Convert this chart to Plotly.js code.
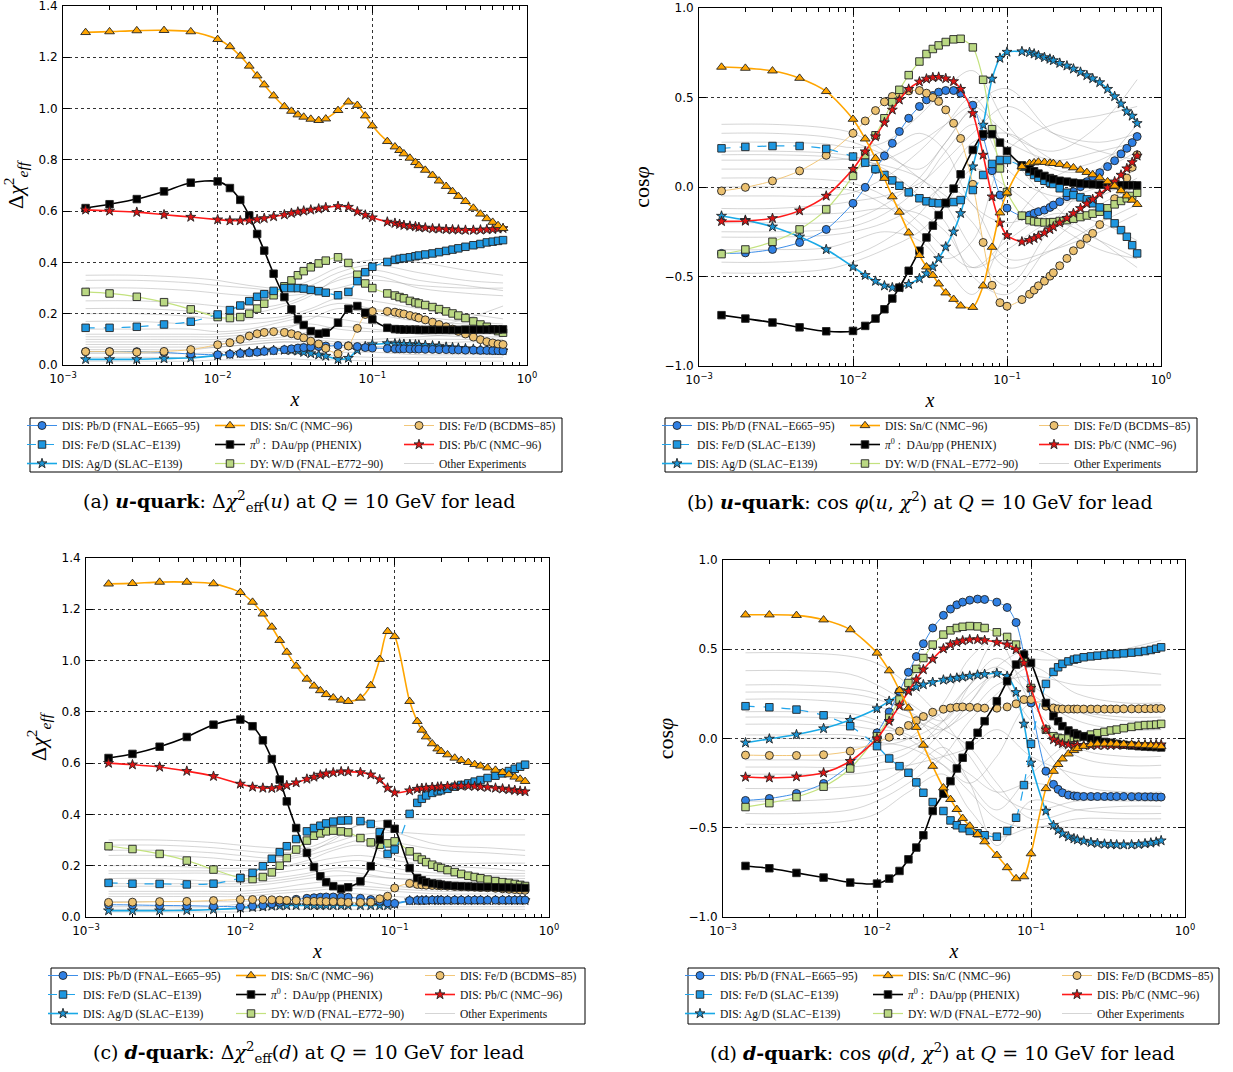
<!DOCTYPE html>
<html><head><meta charset="utf-8">
<script src="https://cdn.plot.ly/plotly-3.0.1.min.js"></script>
<style>html,body{margin:0;padding:0;background:#fff}#chart{width:1233px;height:1072px}</style>
</head><body><div id="chart"></div>
<script>
// ---------------- DATA ----------------
const xGrid = [0.0014,0.002,0.003,0.0045,0.0067,0.01,
  0.012,0.014,0.016,0.018,0.02,0.023,0.027,0.03,0.033,0.036,0.04,0.045,0.05,0.06,0.07,0.08,0.09,0.1,
  0.125,0.14,0.15,0.16,0.175,0.19,0.2,0.22,0.245,0.27,0.3,0.33,0.36,0.4,0.45,0.5,0.55,0.6,0.65,0.7];
const xOther = [0.0014,0.003,0.0067,0.01,0.016,0.027,0.04,0.06,0.1,0.2,0.4,0.7];

const xTickVals = [0.001,0.01,0.1,1];
const xTickText = ['10<sup>−3</sup>','10<sup>−2</sup>','10<sup>−1</sup>','10<sup>0</sup>'];
const yTickChi = [0,0.2,0.4,0.6,0.8,1.0,1.2,1.4];
const yTickCos = [-1,-0.5,0,0.5,1];

const seriesNames = {
  E665: 'DIS: Pb/D (FNAL−E665−95)',
  SLACFe: 'DIS: Fe/D (SLAC−E139)',
  Ag: 'DIS: Ag/D (SLAC−E139)',
  Sn: 'DIS: Sn/C (NMC−96)',
  pi0: '<i>π</i><sup>0</sup> :  DAu/pp (PHENIX)',
  DY: 'DY: W/D (FNAL−E772−90)',
  BCDMS: 'DIS: Fe/D (BCDMS−85)',
  PbC: 'DIS: Pb/C (NMC−96)',
  other: 'Other Experiments'
};

// ----- panel (a): u-quark, delta chi2 -----
const a_Sn = [1.297,1.300,1.304,1.305,1.300,1.270,
  1.242,1.205,1.166,1.128,1.093,1.050,1.008,0.990,0.976,0.967,0.959,0.954,0.960,0.993,1.026,1.013,0.972,0.933,
  0.872,0.851,0.837,0.824,0.807,0.790,0.778,0.760,0.740,0.718,0.697,0.677,0.658,0.638,0.612,0.589,0.571,0.557,0.544,0.533];
const a_pi0 = [0.612,0.627,0.647,0.677,0.711,0.716,
  0.690,0.644,0.583,0.511,0.446,0.356,0.265,0.217,0.178,0.156,0.132,0.122,0.126,0.165,0.219,0.230,0.204,0.178,
  0.145,0.140,0.139,0.138,0.138,0.138,0.137,0.137,0.137,0.137,0.137,0.137,0.137,0.138,0.138,0.138,0.138,0.139,0.139,0.139];
const a_PbC = [0.605,0.601,0.596,0.586,0.577,0.567,
  0.563,0.563,0.564,0.568,0.572,0.579,0.586,0.592,0.597,0.601,0.605,0.609,0.614,0.619,0.616,0.598,0.585,0.575,
  0.558,0.553,0.549,0.545,0.542,0.540,0.537,0.535,0.532,0.531,0.529,0.528,0.527,0.526,0.526,0.527,0.528,0.529,0.531,0.533];
const a_SLACFe = [0.145,0.145,0.149,0.158,0.169,0.197,
  0.214,0.232,0.249,0.266,0.276,0.289,0.300,0.300,0.300,0.298,0.293,0.288,0.282,0.272,0.285,0.327,0.362,0.383,
  0.402,0.410,0.414,0.417,0.420,0.424,0.427,0.431,0.435,0.440,0.445,0.450,0.455,0.461,0.467,0.472,0.478,0.481,0.484,0.487];
const a_DY = [0.285,0.279,0.266,0.245,0.217,0.187,
  0.183,0.187,0.200,0.220,0.239,0.272,0.307,0.330,0.350,0.366,0.381,0.396,0.407,0.420,0.398,0.352,0.318,0.300,
  0.279,0.271,0.265,0.260,0.250,0.244,0.240,0.234,0.226,0.218,0.209,0.201,0.193,0.183,0.170,0.158,0.149,0.139,0.132,0.126];
const a_BCDMS = [0.052,0.052,0.050,0.053,0.060,0.079,
  0.087,0.100,0.113,0.122,0.127,0.130,0.127,0.122,0.115,0.106,0.093,0.082,0.065,0.044,0.074,0.143,0.197,0.209,
  0.209,0.206,0.202,0.199,0.193,0.188,0.183,0.176,0.167,0.158,0.149,0.140,0.131,0.121,0.109,0.099,0.091,0.086,0.082,0.080];
const a_E665 = [0.052,0.052,0.052,0.049,0.043,0.040,
  0.042,0.045,0.048,0.050,0.053,0.056,0.060,0.063,0.066,0.068,0.070,0.072,0.074,0.076,0.075,0.072,0.068,0.066,
  0.064,0.063,0.063,0.063,0.062,0.062,0.062,0.061,0.061,0.060,0.060,0.059,0.059,0.058,0.058,0.057,0.057,0.056,0.056,0.055];
const a_Ag = [0.022,0.022,0.022,0.025,0.028,0.037,
  0.042,0.046,0.050,0.053,0.055,0.057,0.058,0.057,0.055,0.050,0.045,0.040,0.035,0.022,0.027,0.058,0.072,0.080,
  0.084,0.083,0.082,0.081,0.080,0.079,0.078,0.077,0.075,0.073,0.070,0.068,0.066,0.064,0.062,0.060,0.059,0.058,0.057,0.056];
const a_other = [
  [0.35,0.35,0.34,0.33,0.31,0.30,0.33,0.38,0.41,0.40,0.37,0.35],
  [0.33,0.33,0.32,0.31,0.30,0.29,0.31,0.36,0.39,0.36,0.33,0.32],
  [0.30,0.30,0.29,0.28,0.27,0.27,0.28,0.30,0.33,0.31,0.30,0.30],
  [0.25,0.25,0.24,0.23,0.22,0.24,0.28,0.33,0.35,0.30,0.28,0.27],
  [0.22,0.22,0.21,0.20,0.20,0.23,0.27,0.34,0.37,0.33,0.31,0.29],
  [0.20,0.20,0.19,0.18,0.18,0.19,0.22,0.26,0.25,0.22,0.20,0.18],
  [0.17,0.17,0.16,0.16,0.16,0.18,0.21,0.24,0.22,0.19,0.17,0.16],
  [0.14,0.14,0.14,0.13,0.14,0.17,0.19,0.18,0.16,0.15,0.15,0.15],
  [0.12,0.12,0.12,0.12,0.13,0.15,0.16,0.14,0.13,0.14,0.18,0.23],
  [0.11,0.11,0.11,0.11,0.12,0.14,0.18,0.22,0.20,0.17,0.16,0.15],
  [0.10,0.10,0.10,0.10,0.11,0.12,0.11,0.10,0.10,0.11,0.12,0.12],
  [0.09,0.09,0.09,0.09,0.10,0.11,0.13,0.15,0.14,0.12,0.11,0.11],
  [0.08,0.08,0.08,0.08,0.09,0.10,0.10,0.09,0.09,0.10,0.10,0.10],
  [0.07,0.07,0.07,0.07,0.08,0.09,0.08,0.07,0.07,0.08,0.09,0.09],
  [0.06,0.06,0.06,0.07,0.08,0.09,0.09,0.08,0.07,0.07,0.06,0.06],
  [0.045,0.045,0.045,0.05,0.06,0.07,0.06,0.05,0.05,0.04,0.04,0.04],
  [0.03,0.03,0.03,0.035,0.04,0.045,0.04,0.035,0.03,0.03,0.03,0.03],
  [0.015,0.015,0.015,0.02,0.02,0.025,0.02,0.02,0.015,0.015,0.015,0.015]];

// ----- panel (b): u-quark, cos phi -----
const b_Sn = [0.670,0.664,0.649,0.608,0.534,0.379,
  0.269,0.160,0.049,-0.054,-0.140,-0.256,-0.382,-0.446,-0.493,-0.541,-0.591,-0.627,-0.664,-0.672,-0.552,-0.336,-0.144,-0.032,
  0.114,0.132,0.136,0.140,0.138,0.134,0.132,0.127,0.119,0.108,0.095,0.082,0.069,0.052,0.030,0.006,-0.020,-0.049,-0.073,-0.097];
const b_pi0 = [-0.716,-0.735,-0.757,-0.784,-0.806,-0.804,
  -0.776,-0.735,-0.683,-0.623,-0.562,-0.468,-0.356,-0.282,-0.216,-0.157,-0.088,-0.009,0.071,0.207,0.295,0.295,0.248,0.201,
  0.121,0.100,0.088,0.075,0.062,0.050,0.043,0.035,0.030,0.024,0.020,0.017,0.015,0.013,0.011,0.011,0.010,0.010,0.010,0.009];
const b_PbC = [-0.192,-0.190,-0.175,-0.132,-0.050,0.100,
  0.198,0.282,0.360,0.431,0.487,0.547,0.588,0.604,0.612,0.614,0.606,0.590,0.547,0.412,0.179,-0.054,-0.200,-0.270,
  -0.306,-0.297,-0.287,-0.274,-0.256,-0.237,-0.222,-0.200,-0.174,-0.147,-0.119,-0.093,-0.069,-0.039,-0.004,0.030,0.067,0.103,0.138,0.174];
const b_SLACFe = [0.216,0.224,0.229,0.229,0.213,0.170,
  0.136,0.100,0.067,0.037,0.007,-0.030,-0.063,-0.080,-0.088,-0.091,-0.091,-0.084,-0.073,-0.017,0.067,0.129,0.151,0.151,
  0.114,0.086,0.067,0.052,0.035,0.024,0.017,-0.007,-0.032,-0.045,-0.058,-0.069,-0.091,-0.114,-0.157,-0.203,-0.241,-0.278,-0.325,-0.371];
const b_DY = [-0.375,-0.349,-0.306,-0.237,-0.125,0.062,
  0.177,0.289,0.384,0.474,0.543,0.625,0.701,0.743,0.771,0.791,0.810,0.825,0.828,0.780,0.599,0.323,0.104,-0.028,
  -0.160,-0.185,-0.192,-0.196,-0.198,-0.198,-0.196,-0.190,-0.185,-0.177,-0.168,-0.159,-0.149,-0.138,-0.119,-0.097,-0.078,-0.063,-0.050,-0.032];
const b_BCDMS = [-0.022,-0.002,0.034,0.090,0.177,0.300,
  0.369,0.427,0.476,0.506,0.520,0.537,0.539,0.524,0.500,0.478,0.431,0.356,0.271,0.015,-0.310,-0.549,-0.646,-0.666,
  -0.629,-0.599,-0.576,-0.552,-0.526,-0.498,-0.479,-0.440,-0.399,-0.356,-0.321,-0.287,-0.259,-0.210,-0.140,-0.065,-0.010,0.050,0.110,0.180];
const b_E665 = [-0.371,-0.368,-0.349,-0.310,-0.237,-0.091,
  -0.002,0.099,0.174,0.244,0.310,0.384,0.450,0.487,0.511,0.530,0.539,0.539,0.524,0.457,0.282,0.091,-0.045,-0.118,
  -0.162,-0.157,-0.147,-0.138,-0.129,-0.114,-0.101,-0.082,-0.054,-0.026,0.002,0.030,0.058,0.080,0.114,0.147,0.185,0.216,0.248,0.282];
const b_Ag = [-0.162,-0.185,-0.222,-0.278,-0.349,-0.446,
  -0.493,-0.526,-0.552,-0.562,-0.563,-0.543,-0.511,-0.483,-0.446,-0.399,-0.334,-0.250,-0.147,0.114,0.347,0.604,0.720,0.754,
  0.757,0.752,0.744,0.735,0.724,0.715,0.707,0.692,0.677,0.660,0.642,0.623,0.606,0.584,0.547,0.506,0.465,0.422,0.397,0.356];
const b_other = [
  [0.35,0.35,0.33,0.30,0.20,0.05,-0.05,-0.20,-0.45,-0.35,-0.20,-0.10],
  [0.25,0.25,0.24,0.22,0.25,0.40,0.55,0.65,0.35,0.10,0.10,0.20],
  [0.18,0.18,0.17,0.15,0.12,0.05,-0.10,-0.35,-0.55,-0.20,0.10,0.35],
  [0.10,0.10,0.10,0.10,0.15,0.25,0.35,0.45,0.30,0.20,0.35,0.60],
  [0.05,0.05,0.04,0.02,-0.05,-0.20,-0.35,-0.45,-0.30,-0.15,-0.20,-0.30],
  [-0.05,-0.05,-0.05,-0.03,0.05,0.20,0.35,0.50,0.20,-0.10,-0.30,-0.45],
  [-0.12,-0.12,-0.10,-0.08,-0.05,0.02,0.15,0.30,0.45,0.30,0.25,0.30],
  [-0.20,-0.20,-0.20,-0.18,-0.10,0.05,0.25,0.42,0.10,-0.05,0.00,0.10],
  [-0.28,-0.28,-0.27,-0.25,-0.20,-0.10,0.00,-0.10,-0.40,-0.35,-0.25,-0.15],
  [-0.35,-0.35,-0.34,-0.30,-0.25,-0.30,-0.45,-0.60,-0.25,0.05,0.15,0.25],
  [-0.42,-0.42,-0.40,-0.38,-0.30,-0.15,0.05,0.25,0.30,0.15,0.05,-0.05],
  [-0.48,-0.48,-0.46,-0.42,-0.35,-0.25,-0.10,0.10,0.00,-0.20,-0.35,-0.40],
  [0.30,0.30,0.28,0.25,0.18,0.10,0.25,0.45,0.55,0.30,0.20,0.15],
  [0.00,0.00,-0.01,-0.02,-0.10,-0.25,-0.40,-0.30,0.20,0.35,0.40,0.45],
  [0.15,0.15,0.15,0.16,0.20,0.30,0.20,-0.10,-0.20,-0.10,-0.05,0.05],
  [0.20,0.20,0.19,0.17,0.10,-0.05,-0.20,-0.50,-0.60,-0.30,-0.10,0.00],
  [-0.25,-0.25,-0.24,-0.22,-0.15,0.00,0.20,0.35,0.25,0.15,0.20,0.25],
  [-0.15,-0.15,-0.15,-0.14,-0.12,-0.15,-0.25,-0.45,-0.35,-0.20,-0.30,-0.40]];

// ----- panel (c): d-quark, delta chi2 -----
const c_Sn = [1.299,1.301,1.306,1.306,1.300,1.266,
  1.228,1.182,1.131,1.079,1.033,0.979,0.928,0.901,0.883,0.868,0.855,0.846,0.841,0.854,0.903,1.005,1.114,1.094,
  0.841,0.763,0.729,0.703,0.676,0.656,0.646,0.633,0.620,0.611,0.603,0.595,0.589,0.582,0.573,0.564,0.555,0.546,0.538,0.529];
const c_pi0 = [0.620,0.636,0.664,0.702,0.750,0.770,
  0.744,0.689,0.616,0.536,0.451,0.347,0.250,0.195,0.159,0.136,0.120,0.110,0.116,0.139,0.198,0.302,0.363,0.344,
  0.191,0.152,0.143,0.136,0.131,0.129,0.126,0.123,0.121,0.120,0.119,0.118,0.117,0.117,0.116,0.115,0.115,0.114,0.114,0.113];
const c_PbC = [0.600,0.594,0.585,0.569,0.549,0.519,
  0.507,0.503,0.502,0.506,0.513,0.524,0.538,0.546,0.554,0.559,0.563,0.567,0.567,0.564,0.555,0.536,0.503,0.485,
  0.493,0.499,0.502,0.503,0.506,0.507,0.508,0.510,0.511,0.511,0.511,0.510,0.508,0.506,0.503,0.500,0.497,0.494,0.491,0.489];
const c_SLACFe = [0.133,0.130,0.129,0.127,0.130,0.152,
  0.172,0.198,0.227,0.253,0.276,0.304,0.334,0.347,0.356,0.365,0.372,0.376,0.377,0.374,0.363,0.331,0.246,0.263,
  0.402,0.445,0.461,0.474,0.484,0.490,0.494,0.500,0.508,0.515,0.521,0.528,0.534,0.542,0.551,0.560,0.569,0.578,0.586,0.594];
const c_DY = [0.276,0.265,0.246,0.220,0.185,0.152,
  0.148,0.156,0.174,0.200,0.230,0.263,0.298,0.317,0.326,0.334,0.337,0.334,0.330,0.308,0.291,0.282,0.287,0.295,
  0.256,0.234,0.224,0.214,0.204,0.196,0.191,0.183,0.175,0.168,0.161,0.156,0.151,0.146,0.140,0.136,0.133,0.129,0.125,0.121];
const c_BCDMS = [0.057,0.058,0.060,0.061,0.064,0.068,
  0.068,0.068,0.067,0.066,0.065,0.064,0.062,0.061,0.061,0.060,0.060,0.059,0.057,0.057,0.058,0.071,0.081,0.113,
  0.131,0.127,0.125,0.124,0.123,0.122,0.121,0.120,0.119,0.118,0.117,0.116,0.115,0.114,0.112,0.110,0.108,0.107,0.105,0.104];
const c_E665 = [0.048,0.047,0.045,0.044,0.042,0.040,
  0.042,0.045,0.051,0.057,0.064,0.069,0.073,0.075,0.077,0.078,0.078,0.078,0.077,0.073,0.068,0.061,0.055,0.053,
  0.064,0.065,0.065,0.065,0.066,0.066,0.066,0.066,0.066,0.066,0.066,0.066,0.066,0.066,0.066,0.066,0.066,0.066,0.066,0.066];
const c_Ag = [0.025,0.025,0.025,0.026,0.029,0.035,
  0.038,0.040,0.043,0.044,0.045,0.045,0.045,0.045,0.045,0.045,0.045,0.045,0.045,0.045,0.045,0.045,0.045,0.051,
  0.064,0.064,0.064,0.065,0.065,0.065,0.065,0.065,0.065,0.065,0.065,0.065,0.065,0.065,0.065,0.065,0.065,0.065,0.065,0.065];
const c_other = [
  [0.30,0.30,0.29,0.28,0.27,0.27,0.31,0.36,0.38,0.38,0.38,0.38],
  [0.28,0.28,0.27,0.26,0.25,0.26,0.29,0.32,0.33,0.32,0.32,0.32],
  [0.26,0.26,0.25,0.24,0.23,0.25,0.30,0.36,0.33,0.28,0.27,0.26],
  [0.24,0.24,0.23,0.22,0.22,0.24,0.27,0.30,0.29,0.26,0.25,0.24],
  [0.20,0.20,0.19,0.19,0.19,0.21,0.23,0.24,0.22,0.20,0.19,0.18],
  [0.18,0.18,0.18,0.18,0.19,0.22,0.26,0.28,0.24,0.21,0.21,0.21],
  [0.17,0.17,0.17,0.16,0.17,0.19,0.21,0.22,0.19,0.17,0.17,0.17],
  [0.15,0.15,0.14,0.14,0.15,0.17,0.19,0.19,0.17,0.16,0.16,0.16],
  [0.13,0.13,0.13,0.13,0.14,0.16,0.18,0.17,0.15,0.15,0.15,0.15],
  [0.12,0.12,0.12,0.12,0.13,0.15,0.16,0.16,0.15,0.14,0.14,0.14],
  [0.10,0.10,0.10,0.10,0.11,0.13,0.14,0.14,0.12,0.11,0.11,0.11],
  [0.09,0.09,0.09,0.09,0.10,0.11,0.12,0.12,0.11,0.10,0.10,0.10],
  [0.08,0.08,0.08,0.08,0.09,0.10,0.11,0.11,0.10,0.09,0.09,0.09],
  [0.06,0.06,0.06,0.06,0.07,0.08,0.09,0.09,0.08,0.07,0.07,0.07],
  [0.04,0.04,0.04,0.05,0.05,0.06,0.07,0.07,0.06,0.05,0.05,0.05],
  [0.03,0.03,0.03,0.03,0.04,0.05,0.05,0.05,0.04,0.04,0.04,0.04],
  [0.02,0.02,0.02,0.02,0.03,0.03,0.03,0.03,0.03,0.03,0.03,0.03]];

// ----- panel (d): d-quark, cos phi -----
const d_Sn = [0.693,0.693,0.690,0.665,0.610,0.479,
  0.380,0.270,0.171,0.063,-0.037,-0.155,-0.276,-0.341,-0.397,-0.447,-0.490,-0.537,-0.578,-0.654,-0.723,-0.785,-0.774,-0.645,
  -0.280,-0.183,-0.145,-0.114,-0.086,-0.067,-0.056,-0.043,-0.034,-0.030,-0.030,-0.030,-0.031,-0.032,-0.034,-0.036,-0.038,-0.040,-0.042,-0.045];
const d_pi0 = [-0.714,-0.727,-0.753,-0.779,-0.807,-0.813,
  -0.785,-0.742,-0.677,-0.611,-0.542,-0.406,-0.309,-0.239,-0.168,-0.108,-0.039,0.032,0.097,0.209,0.321,0.414,0.470,0.423,
  0.199,0.125,0.097,0.069,0.045,0.030,0.022,0.011,0.000,-0.009,-0.019,-0.024,-0.030,-0.035,-0.039,-0.043,-0.045,-0.047,-0.048,-0.050];
const d_PbC = [-0.216,-0.220,-0.214,-0.192,-0.127,0.000,
  0.097,0.183,0.265,0.330,0.386,0.445,0.503,0.526,0.539,0.548,0.554,0.555,0.550,0.539,0.526,0.498,0.423,0.283,
  0.050,-0.006,-0.019,-0.028,-0.034,-0.037,-0.037,-0.038,-0.038,-0.038,-0.038,-0.038,-0.037,-0.037,-0.036,-0.036,-0.035,-0.035,-0.034,-0.034];
const d_SLACFe = [0.181,0.175,0.162,0.130,0.069,-0.043,
  -0.112,-0.155,-0.192,-0.246,-0.304,-0.356,-0.406,-0.459,-0.486,-0.503,-0.518,-0.531,-0.542,-0.550,-0.518,-0.444,-0.261,-0.030,
  0.306,0.373,0.399,0.418,0.432,0.442,0.447,0.455,0.460,0.464,0.468,0.472,0.473,0.477,0.481,0.485,0.490,0.496,0.503,0.511];
const d_DY = [-0.384,-0.362,-0.328,-0.270,-0.168,0.013,
  0.116,0.218,0.311,0.390,0.451,0.526,0.582,0.606,0.619,0.626,0.630,0.628,0.619,0.595,0.569,0.526,0.432,0.283,
  0.050,0.013,0.004,0.000,0.000,0.004,0.007,0.013,0.022,0.030,0.037,0.045,0.050,0.058,0.065,0.071,0.075,0.076,0.078,0.082];
const d_BCDMS = [-0.093,-0.095,-0.095,-0.091,-0.071,-0.020,
  0.007,0.041,0.073,0.100,0.123,0.147,0.164,0.171,0.175,0.177,0.175,0.173,0.170,0.170,0.177,0.194,0.218,0.218,
  0.181,0.171,0.166,0.165,0.165,0.165,0.165,0.165,0.165,0.165,0.165,0.165,0.165,0.166,0.166,0.166,0.167,0.167,0.168,0.168];
const d_E665 = [-0.347,-0.336,-0.308,-0.252,-0.145,0.032,
  0.149,0.265,0.371,0.459,0.531,0.619,0.690,0.725,0.749,0.764,0.775,0.781,0.779,0.764,0.734,0.650,0.470,0.199,
  -0.183,-0.257,-0.285,-0.304,-0.317,-0.322,-0.324,-0.325,-0.325,-0.325,-0.325,-0.325,-0.325,-0.325,-0.326,-0.326,-0.327,-0.327,-0.328,-0.328];
const d_Ag = [-0.024,-0.002,0.022,0.056,0.103,0.168,
  0.209,0.246,0.270,0.289,0.302,0.315,0.328,0.334,0.339,0.345,0.350,0.356,0.360,0.365,0.349,0.259,0.082,-0.136,
  -0.406,-0.486,-0.514,-0.533,-0.550,-0.561,-0.567,-0.574,-0.582,-0.587,-0.591,-0.593,-0.595,-0.595,-0.595,-0.593,-0.589,-0.585,-0.580,-0.572];
const d_other = [
  [0.48,0.48,0.46,0.42,0.30,0.10,-0.10,-0.30,-0.40,-0.35,-0.35,-0.35],
  [0.38,0.38,0.36,0.30,0.20,0.10,0.30,0.55,0.45,0.45,0.50,0.55],
  [0.30,0.30,0.28,0.25,0.15,-0.05,-0.25,-0.40,-0.20,0.00,0.05,0.05],
  [0.22,0.22,0.20,0.18,0.12,0.05,0.20,0.40,0.50,0.40,0.38,0.36],
  [0.15,0.15,0.14,0.10,0.00,-0.15,-0.30,-0.45,-0.50,-0.45,-0.45,-0.45],
  [0.08,0.08,0.07,0.05,0.05,0.15,0.30,0.45,0.30,0.15,0.10,0.10],
  [0.02,0.02,0.02,0.00,0.00,0.10,0.25,0.35,0.10,-0.10,-0.15,-0.15],
  [-0.05,-0.05,-0.05,-0.04,0.00,0.20,0.45,0.55,0.20,-0.05,-0.10,-0.10],
  [-0.12,-0.12,-0.12,-0.10,-0.05,0.05,0.15,0.30,0.35,0.30,0.30,0.30],
  [-0.20,-0.20,-0.20,-0.18,-0.15,-0.10,-0.05,0.05,-0.10,-0.20,-0.22,-0.22],
  [-0.28,-0.28,-0.27,-0.25,-0.15,0.05,0.20,0.35,0.05,-0.25,-0.30,-0.30],
  [-0.35,-0.35,-0.33,-0.30,-0.20,-0.05,-0.25,-0.60,-0.35,-0.40,-0.42,-0.42],
  [-0.42,-0.42,-0.40,-0.35,-0.25,-0.10,0.10,0.25,0.40,0.25,0.20,0.20],
  [-0.48,-0.48,-0.46,-0.42,-0.30,-0.20,-0.40,-0.55,-0.50,-0.50,-0.52,-0.52],
  [0.00,0.00,0.00,-0.02,-0.05,-0.15,-0.25,-0.10,0.20,0.15,0.12,0.12],
  [0.12,0.12,0.11,0.08,0.02,-0.10,-0.20,-0.30,-0.25,-0.30,-0.32,-0.32],
  [-0.16,-0.16,-0.16,-0.14,-0.08,0.10,0.30,0.40,0.25,0.10,0.05,0.05],
  [0.26,0.26,0.25,0.22,0.15,0.05,-0.05,-0.25,-0.45,-0.40,-0.38,-0.38]];

// ---------------- STYLE / LAYOUT ----------------
const W = 1233, H = 1072;
const PANEL_DATA = {
  a: {E665:a_E665, SLACFe:a_SLACFe, Ag:a_Ag, Sn:a_Sn, pi0:a_pi0, DY:a_DY, BCDMS:a_BCDMS, PbC:a_PbC, other:a_other},
  b: {E665:b_E665, SLACFe:b_SLACFe, Ag:b_Ag, Sn:b_Sn, pi0:b_pi0, DY:b_DY, BCDMS:b_BCDMS, PbC:b_PbC, other:b_other},
  c: {E665:c_E665, SLACFe:c_SLACFe, Ag:c_Ag, Sn:c_Sn, pi0:c_pi0, DY:c_DY, BCDMS:c_BCDMS, PbC:c_PbC, other:c_other},
  d: {E665:d_E665, SLACFe:d_SLACFe, Ag:d_Ag, Sn:d_Sn, pi0:d_pi0, DY:d_DY, BCDMS:d_BCDMS, PbC:d_PbC, other:d_other}
};
const EDGE = '#222';
const STYLE = {
  Ag:    {col:0, rank:3, sym:'star', size:7.5, fill:'#1b95d6', lc:'#19a9e6', lw:1.6, dash:'solid'},
  E665:  {col:0, rank:1, sym:'circle', size:8, fill:'#2f80e4', lc:'#3d8ee8', lw:1.0, dash:'solid'},
  BCDMS: {col:2, rank:1, sym:'circle', size:8, fill:'#ecc170', lc:'#f2c77a', lw:1.0, dash:'solid'},
  DY:    {col:1, rank:3, sym:'square', size:7.5, fill:'#bad883', lc:'#c3e27e', lw:1.2, dash:'solid'},
  SLACFe:{col:0, rank:2, sym:'square', size:7.5, fill:'#1e97e0', lc:'#22a4ea', lw:1.2, dash:'dash'},
  pi0:   {col:1, rank:2, sym:'square', size:7.5, fill:'#000000', lc:'#000000', lw:1.6, dash:'solid'},
  PbC:   {col:2, rank:2, sym:'star', size:7.5, fill:'#e01414', lc:'#ff1a1a', lw:1.6, dash:'solid'},
  Sn:    {col:1, rank:1, sym:'triangle-up', size:8.5, fill:'#ffa500', lc:'#ffa500', lw:1.6, dash:'solid'}
};
const DRAW_ORDER = ['Ag','E665','BCDMS','DY','SLACFe','pi0','PbC','Sn'];

const PANELS = [
  {k:'a', frame:[63,527,6,365], yr:[0,1.4], tv:yTickChi, box:[30,418,562,472], cap:[299,501], ytitle:'Δ<i>χ</i><sup>2</sup><sub><i>eff</i></sub>',
   caption:'(a) <b><i>u</i>-quark</b>: Δ<i>χ</i><sup>2</sup><sub>eff</sub>(<i>u</i>) at <i>Q</i> = 10 GeV for lead'},
  {k:'b', frame:[699,1161,8,366], yr:[-1,1], tv:yTickCos, box:[665,418,1197,472], cap:[920,501], ytitle:'cos<i>φ</i>',
   caption:'(b) <b><i>u</i>-quark</b>: cos <i>φ</i>(<i>u</i>, <i>χ</i><sup>2</sup>) at <i>Q</i> = 10 GeV for lead'},
  {k:'c', frame:[86,549,558,917], yr:[0,1.4], tv:yTickChi, box:[51,968,585,1024], cap:[308,1052], ytitle:'Δ<i>χ</i><sup>2</sup><sub><i>eff</i></sub>',
   caption:'(c) <b><i>d</i>-quark</b>: Δ<i>χ</i><sup>2</sup><sub>eff</sub>(<i>d</i>) at <i>Q</i> = 10 GeV for lead'},
  {k:'d', frame:[723,1185,560,917], yr:[-1,1], tv:yTickCos, box:[688,968,1219,1024], cap:[942,1052], ytitle:'cos<i>φ</i>',
   caption:'(d) <b><i>d</i>-quark</b>: cos <i>φ</i>(<i>d</i>, <i>χ</i><sup>2</sup>) at <i>Q</i> = 10 GeV for lead'}
];
const COL_OFF = [34, 222, 411];
const SERIF = 'Liberation Serif, serif';
const CAPSERIF = 'DejaVu Serif, serif';
const SANS = 'DejaVu Sans, sans-serif';

const traces = [];
const layout = {
  width: W, height: H, margin:{l:0,r:0,t:0,b:0}, paper_bgcolor:'#fff', plot_bgcolor:'#fff',
  showlegend: true, shapes: [], annotations: [], font:{family:SANS, color:'#000'}
};

PANELS.forEach((p, i) => {
  const n = i + 1;
  const xa = n === 1 ? 'x' : 'x' + n, ya = n === 1 ? 'y' : 'y' + n;
  const xKey = n === 1 ? 'xaxis' : 'xaxis' + n, yKey = n === 1 ? 'yaxis' : 'yaxis' + n;
  const [l, r, t, b] = p.frame;
  const legId = c => { const idx = i * 3 + c + 1; return idx === 1 ? 'legend' : 'legend' + idx; };
  const data = PANEL_DATA[p.k];

  data.other.forEach((ys, j) => {
    traces.push({type:'scatter', mode:'lines', x:xOther, y:ys, xaxis:xa, yaxis:ya,
      line:{color:'rgba(150,150,150,0.4)', width:1, shape:'spline', smoothing:1},
      name: seriesNames.other, legendgroup:'other'+p.k, showlegend: j === 0, legend: legId(2), legendrank: 3,
      hoverinfo:'skip'});
  });
  DRAW_ORDER.forEach(key => {
    const s = STYLE[key];
    traces.push({type:'scatter', mode:'lines+markers', x:xGrid, y:data[key], xaxis:xa, yaxis:ya,
      name: seriesNames[key], legend: legId(s.col), legendrank: s.rank,
      line:{color:s.lc, width:s.lw, dash:s.dash, shape:'spline', smoothing:0.8},
      marker:{symbol:s.sym, size:s.size, color:s.fill, line:{color:EDGE, width:0.9}}});
  });

  layout[xKey] = {
    type:'log', range:[-3,0], domain:[l/W, r/W], anchor:ya,
    tickvals:xTickVals, ticktext:xTickText, ticks:'inside', ticklen:7, tickwidth:1, tickcolor:'#000',
    ticklabelstandoff:3, ticklabeloverflow:'allow',
    minor:{ticks:'inside', ticklen:3.5, tickcolor:'#000', dtick:'D1', showgrid:false},
    showline:true, linecolor:'#000', linewidth:1, mirror:'allticks',
    showgrid:true, gridcolor:'#000', griddash:'dot', gridwidth:0.8, zeroline:false,
    tickfont:{family:SANS, size:12, color:'#000'},
    title:{text:'<i>x</i>', font:{family:SERIF, size:20, color:'#000'}, standoff:6}
  };
  layout[yKey] = {
    range:p.yr, tickvals:p.tv, tickformat:'.1f', domain:[1 - b/H, 1 - t/H], anchor:xa,
    ticks:'inside', ticklen:7, tickwidth:1, tickcolor:'#000', ticklabelstandoff:2, ticklabeloverflow:'allow',
    showline:true, linecolor:'#000', linewidth:1, mirror:'allticks',
    showgrid:true, gridcolor:'#000', griddash:'dot', gridwidth:0.8, zeroline:false,
    tickfont:{family:SANS, size:12, color:'#000'},
    title:{text:p.ytitle, font:{family:SERIF, size:22, color:'#000'}, standoff:8}
  };

  for (let c = 0; c < 3; c++) {
    layout[legId(c)] = {
      x:(p.box[0] + COL_OFF[c] - 42) / W, y:1 - (p.box[1] - 7) / H, xanchor:'left', yanchor:'top',
      orientation:'v', bgcolor:'rgba(0,0,0,0)', borderwidth:0, tracegroupgap:0,
      font:{family:SERIF, size:11.5, color:'#111'}, itemwidth:30
    };
  }
  layout.shapes.push({type:'rect', xref:'paper', yref:'paper',
    x0:p.box[0]/W, x1:p.box[2]/W, y0:1 - p.box[3]/H, y1:1 - p.box[1]/H,
    line:{color:'#000', width:1}, fillcolor:'rgba(0,0,0,0)', layer:'below'});
  layout.annotations.push({xref:'paper', yref:'paper', x:p.cap[0]/W, y:1 - p.cap[1]/H,
    xanchor:'center', yanchor:'middle', showarrow:false, text:p.caption,
    font:{family:CAPSERIF, size:19, color:'#000'}});
});

Plotly.newPlot('chart', traces, layout, {staticPlot:true, displayModeBar:false});
</script></body></html>
